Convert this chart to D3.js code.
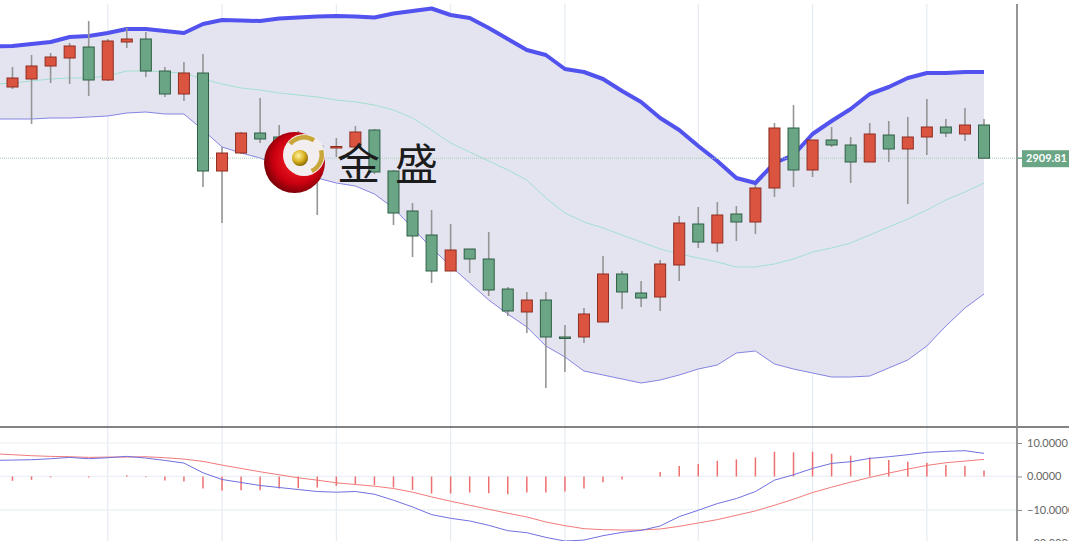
<!DOCTYPE html>
<html><head><meta charset="utf-8">
<script src="https://cdn.jsdelivr.net/npm/d3@7"></script>
<style>html,body{margin:0;padding:0;background:#fff;overflow:hidden}</style>
</head><body><svg id="c" width="1069" height="541"></svg>
<script>
// ---- data ----
const candleIdx = d3.range(0, 52);
const open  = [2981,2989,3002,3010,3021,2988,3026,3029,2997,2974,2995,2897,2915,2935,2931,2926,2922,2920,2921,2938,2897,2857,2833,2797,2819,2809,2779,2756,2768,2731,2731,2746,2794,2775,2771,2803,2844,2825,2854,2846,2880,2940,2898,2928,2923,2906,2933,2919,2931,2941,2934,2943];
const close = [2990,3002,3011,3022,2988,3027,3029,2997,2974,2995,2897,2915,2935,2929,2923,2921,2920,2921.5,2936,2896,2855,2832,2797,2818,2809,2778,2757,2768,2731,2729.5,2754,2794,2776,2770,2804,2845,2826,2853,2846,2880,2940,2898,2928,2923,2906,2934,2919,2931,2941,2935,2943,2909.81];
const high  = [3001,3013,3015,3025,3047,3029,3040,3036,3001,3006,3014,2921,2936,2970,2943,2937,2926,2930,2942,2939,2898,2865,2858,2844,2819,2836,2781,2776,2776,2743,2760,2812,2797,2787,2808,2852,2861,2866,2862,2883,2945,2963,2928,2941,2931,2945,2947,2951,2969,2949,2960,2949];
const low   = [2979,2944,2985,2984,2972,2987,3020,2991,2971,2967,2881,2845,2914,2925,2918,2918,2853,2911,2918,2894,2843,2811,2785,2797,2795,2772,2752,2735,2680,2696,2725,2746,2759,2761,2757,2787,2820,2816,2827,2834,2871,2881,2891,2921,2885,2906,2906,2864,2913,2931,2927,2909.81];

const bandIdx = d3.range(-1, 52);
const upper  = [3021.5,3022,3024,3026,3031,3032,3035,3039,3039,3037,3035,3044,3048,3047.5,3047,3049.5,3050.5,3051.5,3052,3051.5,3050.5,3054.5,3057,3059.5,3053,3050,3040,3029,3018,3013,2999,2996,2989,2977,2966,2950,2938,2922,2907,2890,2885,2905,2913,2934,2947,2959,2974,2981,2990,2995,2995,2996,2996];
const middle = [2984,2985,2987,2989,2990,2990,2992,2997,2997,2996,2995,2989,2984,2980,2978,2975,2973,2971,2968,2966,2963,2958,2950,2938,2925,2916,2907,2898,2888,2870,2855,2846,2840,2833,2826,2819,2814,2810,2806,2801,2801,2804,2809,2816,2820,2825,2833,2841,2849,2858,2868,2876,2885];
const lower  = [2949,2949,2949,2950,2950,2951,2952,2955,2956,2954,2954,2938,2921,2915,2910,2902,2897,2890,2885,2882,2874,2860,2840,2820,2802,2785,2768,2754,2741,2722,2711,2697,2693,2689,2685,2688,2693,2699,2703,2715,2717,2704,2699,2695,2691,2691,2692,2700,2708,2722,2742,2760,2774];

const macdIdx = d3.range(-1, 52);
const dif = [4.8,4.9,5.0,5.3,5.7,5.3,5.6,6.0,5.5,4.8,4.0,1.1,-0.9,-1.8,-2.7,-3.3,-3.9,-4.5,-4.7,-4.5,-5.3,-7.1,-9.1,-11.4,-12.5,-13.3,-14.6,-16.2,-16.8,-18.2,-19.3,-19.0,-17.7,-16.7,-16.1,-14.8,-12.0,-10.1,-8.1,-6.6,-4.5,-1.1,0.5,2.4,3.9,4.4,5.4,5.9,6.5,7.2,7.5,7.7,6.9];
const dea = [6.8,6.5,6.2,6.0,5.9,5.7,5.8,5.8,5.9,5.6,5.2,4.5,3.4,2.4,1.4,0.5,-0.4,-1.1,-1.9,-2.4,-2.9,-3.6,-4.7,-6.1,-7.4,-8.6,-9.8,-11.0,-12.1,-13.6,-14.7,-15.6,-15.9,-16.0,-16.0,-15.7,-14.9,-13.9,-12.9,-11.6,-10.3,-8.6,-6.8,-4.8,-3.2,-1.7,-0.3,1.0,2.2,3.3,4.1,4.6,5.1];
const hist = [-1.3,-1.0,-0.3,0,-0.3,0,0.4,-0.2,-1.2,-1.5,-3.6,-4.3,-4.1,-4.1,-3.6,-3.5,-3.3,-2.8,-2.3,-2.6,-3.3,-4.0,-5.1,-5.1,-4.8,-5.0,-5.3,-4.8,-4.8,-4.5,-3.6,-1.7,-0.9,0,1.3,3.1,3.7,4.7,5.1,5.7,7.4,7.2,7.4,6.8,6.2,5.7,4.9,4.4,4.1,3.4,3.1,1.8];

const gridIdx = [5, 11, 17, 23, 29, 36, 42, 48];
const macdTicks = [10, 0, -10, -20];
const logoText = "金盛";

// ---- layout ----
const W = 1069, H = 541, plotR = 1017, mainTop = 4, mainBot = 427;
const svg = d3.select("#c");
svg.append("rect").attr("width", W).attr("height", H).attr("fill", "#fff");

const x = d3.scaleLinear().domain([0, 51]).range([12.5, 984]);
const y = d3.scaleLinear().domain([2641, 3068]).range([427, 0]);
const ym = d3.scaleLinear().domain([-20, 10]).range([543.4, 443.0]);

const defs = svg.append("defs");
defs.append("clipPath").attr("id", "cm").append("rect").attr("x", 0).attr("y", mainTop).attr("width", plotR).attr("height", mainBot - mainTop);
defs.append("clipPath").attr("id", "cd").append("rect").attr("x", 0).attr("y", mainBot).attr("width", plotR).attr("height", H - mainBot);

// vertical grid
svg.append("g").selectAll("line").data(gridIdx).join("line")
  .attr("x1", d => x(d)).attr("x2", d => x(d)).attr("y1", mainTop).attr("y2", H)
  .attr("stroke", "#e4ebf2").attr("stroke-width", 1.2);

// MACD horizontal grid
svg.append("g").selectAll("line").data(macdTicks).join("line")
  .attr("x1", 0).attr("x2", plotR).attr("y1", d => ym(d)).attr("y2", d => ym(d))
  .attr("stroke", "#eaf0f5").attr("stroke-width", 1.2);

const main = svg.append("g").attr("clip-path", "url(#cm)");
const bands = bandIdx.map((i, k) => ({i, u: upper[k], m: middle[k], l: lower[k]}));
main.append("path").datum(bands)
  .attr("d", d3.area().x(d => x(d.i)).y0(d => y(d.l)).y1(d => y(d.u)))
  .attr("fill", "#e4e4f1");
main.append("path").datum(bands)
  .attr("d", d3.line().x(d => x(d.i)).y(d => y(d.m)))
  .attr("fill", "none").attr("stroke", "#a2e0cf").attr("stroke-width", 1);
main.append("path").datum(bands)
  .attr("d", d3.line().x(d => x(d.i)).y(d => y(d.l)))
  .attr("fill", "none").attr("stroke", "#8585e2").attr("stroke-width", 1);
main.append("path").datum(bands)
  .attr("d", d3.line().x(d => x(d.i)).y(d => y(d.u)))
  .attr("fill", "none").attr("stroke", "#5252ee").attr("stroke-width", 4).attr("stroke-linejoin", "round");

// price line
main.append("line").attr("x1", 0).attr("x2", plotR).attr("y1", y(close[51])).attr("y2", y(close[51]))
  .attr("stroke", "#a9cdb9").attr("stroke-width", 1).attr("stroke-dasharray", "1,1");

// candles
const candles = candleIdx.map(i => ({i, o: open[i], c: close[i], h: high[i], l: low[i]}));
const cg = main.append("g");
cg.selectAll("line").data(candles).join("line")
  .attr("x1", d => x(d.i)).attr("x2", d => x(d.i))
  .attr("y1", d => y(d.h)).attr("y2", d => y(d.l))
  .attr("stroke", "#959595").attr("stroke-width", 1.6);
const bw = 11;
cg.selectAll("rect").data(candles).join("rect")
  .attr("x", d => x(d.i) - bw / 2)
  .attr("y", d => y(Math.max(d.o, d.c)))
  .attr("width", bw)
  .attr("height", d => Math.max(1.5, Math.abs(y(d.o) - y(d.c))))
  .attr("fill", d => d.c >= d.o ? "#db5440" : "#6aa585")
  .attr("stroke", d => d.c >= d.o ? "#8e2d20" : "#2f5f45")
  .attr("stroke-width", 1);

// logo
const rg = defs.append("radialGradient").attr("id", "rg").attr("cx", "55%").attr("cy", "45%").attr("r", "60%");
rg.append("stop").attr("offset", "0%").attr("stop-color", "#ff2a2a");
rg.append("stop").attr("offset", "65%").attr("stop-color", "#cc0010");
rg.append("stop").attr("offset", "100%").attr("stop-color", "#6a0006");
const gg = defs.append("radialGradient").attr("id", "gg").attr("cx", "40%").attr("cy", "35%").attr("r", "65%");
gg.append("stop").attr("offset", "0%").attr("stop-color", "#fff3a0");
gg.append("stop").attr("offset", "60%").attr("stop-color", "#d8b020");
gg.append("stop").attr("offset", "100%").attr("stop-color", "#8a6a00");
const logo = svg.append("g");
logo.append("circle").attr("cx", 294.5).attr("cy", 162.5).attr("r", 30.5).attr("fill", "url(#rg)");
logo.append("circle").attr("cx", 304).attr("cy", 155).attr("r", 21).attr("fill", "#f2eef0");
const arc = d3.arc().innerRadius(15.5).outerRadius(20);
logo.append("path").attr("transform", "translate(304,155)")
  .attr("d", arc({startAngle: -0.9, endAngle: 0.6})).attr("fill", "#c9a63a");
logo.append("path").attr("transform", "translate(304,155)")
  .attr("d", arc({startAngle: 1.3, endAngle: 2.7})).attr("fill", "#c9a63a");
logo.append("circle").attr("cx", 300).attr("cy", 158).attr("r", 8).attr("fill", "url(#gg)");
logo.append("text").attr("x", 337).attr("y", 180)
  .attr("font-family", "'Noto Sans CJK SC', sans-serif").attr("font-size", 43)
  .attr("letter-spacing", 15).attr("fill", "#1c1c1c").text(logoText);

// MACD panel
const md = svg.append("g").attr("clip-path", "url(#cd)");
md.selectAll("line").data(hist.map((v, i) => ({i, v}))).join("line")
  .attr("x1", d => x(d.i)).attr("x2", d => x(d.i))
  .attr("y1", ym(0)).attr("y2", d => ym(d.v))
  .attr("stroke", "#ee6f6f").attr("stroke-width", 1.5);
const mline = (arr) => d3.line().x((d, k) => x(macdIdx[k])).y(d => ym(d))(arr);
md.append("path").attr("d", mline(dea)).attr("fill", "none").attr("stroke", "#f27a7a").attr("stroke-width", 1);
md.append("path").attr("d", mline(dif)).attr("fill", "none").attr("stroke", "#7070e0").attr("stroke-width", 1);

// separator & axis lines
svg.append("line").attr("x1", 0).attr("x2", W).attr("y1", mainBot).attr("y2", mainBot)
  .attr("stroke", "#5a5a5a").attr("stroke-width", 1.6);
svg.append("line").attr("x1", plotR).attr("x2", plotR).attr("y1", mainTop).attr("y2", H)
  .attr("stroke", "#8a8a8a").attr("stroke-width", 1.8);

// MACD axis
const ax = svg.append("g").attr("transform", `translate(${plotR},0)`)
  .call(d3.axisRight(ym).tickValues(macdTicks).tickFormat(d3.format(".4f")).tickSize(5).tickPadding(5));
ax.select(".domain").remove();
ax.selectAll("line").attr("stroke", "#888");
ax.selectAll("text").attr("fill", "#666").attr("font-size", 11).attr("font-family", "Lato, 'DejaVu Sans', sans-serif");

// last price badge
const by = y(close[51]);
svg.append("line").attr("x1", plotR).attr("x2", plotR + 5).attr("y1", by).attr("y2", by).attr("stroke", "#6aa585").attr("stroke-width", 1.5);
svg.append("rect").attr("x", plotR + 5).attr("y", by - 8).attr("width", 60).attr("height", 17).attr("fill", "#6aa585");
svg.append("text").attr("x", 1026).attr("y", by + 4).attr("fill", "#fff")
  .attr("font-size", 11).attr("font-weight", "bold").attr("font-family", "Lato, 'DejaVu Sans', sans-serif")
  .text(close[51].toFixed(2));
</script></body></html>
